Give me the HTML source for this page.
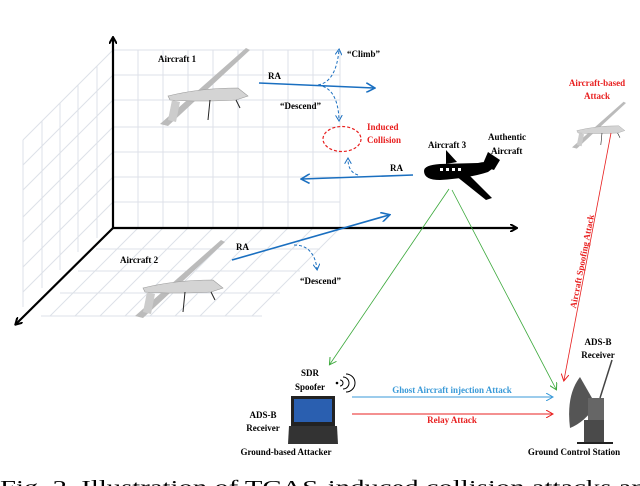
<!DOCTYPE html>
<html><head><meta charset="utf-8"><style>
body{margin:0;background:#fff}
svg{display:block}
text{font-family:"Liberation Serif",serif;font-weight:bold;font-size:9px}
</style></head><body>
<svg width="640" height="486" viewBox="0 0 640 486" xmlns="http://www.w3.org/2000/svg">
<defs>
<marker id="ak" markerWidth="8" markerHeight="8" refX="6" refY="4" orient="auto" markerUnits="userSpaceOnUse"><path d="M0,0 L7,4 L0,8" fill="none" stroke="#000" stroke-width="2"/></marker>
<marker id="ab" markerWidth="10" markerHeight="10" refX="8" refY="5" orient="auto" markerUnits="userSpaceOnUse"><path d="M0,0 L9,5 L0,10" fill="none" stroke="#1a6fc0" stroke-width="1.6"/></marker>
<marker id="abs" markerWidth="7" markerHeight="7" refX="5" refY="3.5" orient="auto" markerUnits="userSpaceOnUse"><path d="M0,0 L6,3.5 L0,7" fill="none" stroke="#1a6fc0" stroke-width="1"/></marker>
<marker id="ag" markerWidth="8" markerHeight="8" refX="6" refY="4" orient="auto" markerUnits="userSpaceOnUse"><path d="M0,0 L7,4 L0,8" fill="none" stroke="#3aa83a" stroke-width="1"/></marker>
<marker id="ar" markerWidth="8" markerHeight="8" refX="6" refY="4" orient="auto" markerUnits="userSpaceOnUse"><path d="M0,0 L7,4 L0,8" fill="none" stroke="#e82020" stroke-width="1"/></marker>
<marker id="al" markerWidth="8" markerHeight="8" refX="6" refY="4" orient="auto" markerUnits="userSpaceOnUse"><path d="M0,0 L7,4 L0,8" fill="none" stroke="#3a9ad8" stroke-width="1"/></marker>
</defs>
<g stroke="#dde1e8" stroke-width="1" fill="none">
<path d="M113,50H340 M113,75H340 M113,100H340 M113,127H340 M113,152H340 M113,177H340 M113,202H340"/>
<path d="M138,50V228 M163,50V228 M188,50V228 M213,50V228 M238,50V228 M263,50V228 M288,50V228 M313,50V228 M340,50V228"/>
<path d="M113,50L23,140 M113,75L23,165 M113,100L23,190 M113,127L23,217 M113,152L23,242 M113,177L23,267 M113,202L23,292"/>
<path d="M23,140V307 M42,121V288 M60,103V270 M78,85V252 M97,66V238"/>
<path d="M96,249H320 M78,271H300 M60,293H280 M41,316H262"/>
<path d="M138,228L50,316 M163,228L75,316 M188,228L100,316 M213,228L125,316 M238,228L150,316 M263,228L175,316 M288,228L200,316 M313,228L225,316 M340,228L252,316"/>
</g>
<g stroke="#000" stroke-width="2.2" fill="none">
<path d="M113,228V38" marker-end="url(#ak)"/>
<path d="M113,228H516" marker-end="url(#ak)"/>
<path d="M113,228L16,324" marker-end="url(#ak)"/>
</g>
<g id="dr">
<path d="M160,124 L246,48 L250,50 L168,126Z" fill="#bbb"/>
<path d="M168,96 Q200,88 238,88 L248,96 L236,100 Q200,102 170,100Z" fill="#d4d4d4" stroke="#999" stroke-width="0.6"/>
<path d="M172,100 L168,120 L176,122 L180,102Z" fill="#ccc"/>
<path d="M236,100 L240,108 M210,100 L208,120" stroke="#222" stroke-width="1"/>
</g>
<use href="#dr" transform="translate(-25,192)"/>
<g transform="translate(572,100) scale(0.6) translate(-160,-45)"><use href="#dr"/></g>
<text x="158" y="62">Aircraft 1</text>
<text x="120" y="263">Aircraft 2</text>
<g stroke="#1a6fc0" stroke-width="1.6" fill="none">
<path d="M259,83L374,88" marker-end="url(#ab)"/>
<path d="M413,175L302,179" marker-end="url(#ab)"/>
<path d="M232,260L389,215" marker-end="url(#ab)"/>
</g>
<g stroke="#1a6fc0" stroke-width="1" fill="none" stroke-dasharray="3,2">
<path d="M318,85 Q336,82 339,50" marker-end="url(#abs)"/>
<path d="M318,85 Q338,88 339,120" marker-end="url(#abs)"/>
<path d="M358,175 Q348,172 348,159" marker-end="url(#abs)"/>
<path d="M294,245 Q314,245 317,269" marker-end="url(#abs)"/>
</g>
<text x="268" y="79">RA</text>
<text x="347" y="57">“Climb”</text>
<text x="280" y="109">“Descend”</text>
<text x="390" y="171">RA</text>
<text x="236" y="250">RA</text>
<text x="300" y="284">“Descend”</text>
<ellipse cx="342" cy="139" rx="19" ry="12.5" fill="none" stroke="#e82020" stroke-width="1.2" stroke-dasharray="3,2"/>
<text x="367" y="130" fill="#e82020">Induced</text>
<text x="367" y="143" fill="#e82020">Collision</text>
<g fill="#000">
<path d="M424,171 Q424,165 440,164 L478,163 Q490,160 496,166 L488,172 Q470,178 440,180 Q424,180 424,171Z"/>
<path d="M446,164 L446,150 L457,162Z"/>
<path d="M482,166 L488,152 L500,160 L494,170Z"/>
<path d="M456,176 L486,200 L492,198 L468,174Z"/>
</g>
<g fill="#fff"><rect x="440" y="168" width="3" height="3"/><rect x="446" y="168" width="3" height="3"/><rect x="452" y="168" width="3" height="3"/><rect x="458" y="168" width="3" height="3"/></g>
<text x="428" y="148">Aircraft 3</text>
<text x="488" y="140">Authentic</text>
<text x="491" y="154">Aircraft</text>
<g stroke="#3aa83a" stroke-width="0.8" fill="none">
<path d="M449,189L330,364" marker-end="url(#ag)"/>
<path d="M452,190L556,389" marker-end="url(#ag)"/>
</g>
<path d="M611,133L564,380" stroke="#e82020" stroke-width="0.8" fill="none" marker-end="url(#ar)"/>
<text x="0" y="0" fill="#e82020" transform="translate(585,262) rotate(-79)" text-anchor="middle">Aircraft Spoofing Attack</text>
<text x="597" y="86" fill="#e82020" text-anchor="middle">Aircraft-based</text>
<text x="597" y="99" fill="#e82020" text-anchor="middle">Attack</text>
<path d="M352,397H552" stroke="#3a9ad8" stroke-width="1" marker-end="url(#al)"/>
<path d="M352,414H552" stroke="#e82020" stroke-width="1" marker-end="url(#ar)"/>
<text x="452" y="393" fill="#3a9ad8" text-anchor="middle">Ghost Aircraft injection Attack</text>
<text x="452" y="423" fill="#e82020" text-anchor="middle">Relay Attack</text>
<text x="310" y="376" text-anchor="middle">SDR</text>
<text x="310" y="390" text-anchor="middle">Spoofer</text>
<g stroke="#000" fill="none" stroke-width="1"><path d="M340,380a3,3 0 0 1 0,6"/><path d="M343,377a6,6 0 0 1 0,12"/><path d="M346,374a9,9 0 0 1 0,18"/></g>
<circle cx="337" cy="383" r="1.3"/>
<rect x="291" y="396" width="44" height="30" fill="#222"/>
<rect x="294" y="399" width="38" height="23" fill="#2a5fb0"/>
<path d="M289,426H337L338,444H288Z" fill="#333"/>
<text x="263" y="418" text-anchor="middle">ADS-B</text>
<text x="263" y="431" text-anchor="middle">Receiver</text>
<text x="286" y="455" text-anchor="middle">Ground-based Attacker</text>
<text x="598" y="345" text-anchor="middle">ADS-B</text>
<text x="598" y="358" text-anchor="middle">Receiver</text>
<path d="M580,377 Q566,395 570,428 Q585,422 596,405 Z" fill="#555"/>
<rect x="588" y="398" width="16" height="22" fill="#666"/>
<rect x="584" y="420" width="20" height="22" fill="#4a4a4a"/>
<rect x="577" y="442" width="36" height="2" fill="#222"/>
<path d="M600,398L612,360" stroke="#444" stroke-width="1.5"/>
<text x="574" y="455" text-anchor="middle">Ground Control Station</text>
<text x="0" y="494" textLength="660" lengthAdjust="spacingAndGlyphs" style="font-weight:normal;font-size:20px">Fig. 2.  Illustration of TCAS-induced collision attacks and</text>
</svg>
</body></html>
